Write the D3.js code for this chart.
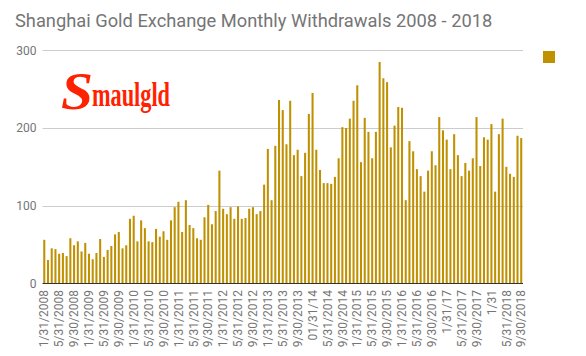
<!DOCTYPE html>
<html>
<head>
<meta charset="utf-8">
<script src="https://cdn.jsdelivr.net/npm/d3@7"></script>
<style>
  html, body { margin: 0; padding: 0; background: #fff; }
  svg { display: block; }
</style>
</head>
<body>
<svg id="chart" width="586" height="356"></svg>
<script>
// ---- data ----
const title = "Shanghai Gold Exchange Monthly Withdrawals 2008 - 2018";
const values = [
  56,30,45,44,38,39,35,58,49,54,
  41,52,38,31,39,57,34,43,48,63,
  66,45,49,83,87,54,81,71,54,53,
  70,60,67,56,81,98,105,66,107,75,
  71,58,56,85,101,76,93,145,96,89,
  98,83,99,83,84,96,98,89,93,127,
  173,107,177,236,223,179,235,165,172,138,
  168,218,245,172,146,129,129,128,137,161,
  201,200,212,235,255,156,213,195,161,195,
  285,264,259,175,203,227,226,107,183,170,
  147,138,118,145,170,152,214,197,185,147,
  192,165,138,155,145,161,214,151,188,185,
  205,118,192,212,150,141,137,190,187
];
const tickLabels = [
  "1/31/2008","5/31/2008","9/30/2008",
  "1/31/2009","5/31/2009","9/30/2009",
  "1/31/2010","5/31/2010","9/30/2010",
  "1/31/2011","5/31/2011","9/30/2011",
  "1/31/2012","5/31/2012","9/30/2012",
  "1/31/2013","5/31/2013","9/30/2013",
  "01/31/14","5/31/2014","9/30/2014",
  "1/31/2015","5/31/2015","9/30/2015",
  "1/31/2016","5/31/2016","9/30/2016",
  "1/31/17","5/31/2017","9/30/2017",
  "1/31","5/31/2018","9/30/2018"
];
const yTicks = [0, 100, 200, 300];
const tickEvery = 4;

// ---- layout ----
const svg = d3.select("#chart");
const plotLeft = 42.5, plotRight = 523, plotTop = 50.3, plotBottom = 283.3;
const barColor = "#bf9000";
const textColor = "#757575";

const idx = values.map((d, i) => i);
const x = d3.scaleBand().domain(idx).range([plotLeft, plotRight]).paddingInner(0.45).paddingOuter(0.2);
const y = d3.scaleLinear().domain([0, 300]).range([plotBottom, plotTop]);

// title
svg.append("text")
  .attr("x", 15).attr("y", 27)
  .attr("font-family", "Roboto, sans-serif")
  .attr("font-size", 18.3)
  .attr("fill", textColor)
  .text(title);

// gridlines
svg.append("g").selectAll("line")
  .data(yTicks.filter(d => d > 0))
  .join("line")
  .attr("x1", plotLeft).attr("x2", plotRight)
  .attr("y1", d => Math.round(y(d)) + 0.5).attr("y2", d => Math.round(y(d)) + 0.5)
  .attr("stroke", "#cccccc").attr("stroke-width", 1);

// y axis labels
const yAxis = d3.axisLeft(y).tickValues(yTicks).tickSize(0).tickPadding(6);
const yg = svg.append("g").attr("transform", `translate(${plotLeft},0)`).call(yAxis);
yg.select(".domain").remove();
yg.selectAll("text")
  .attr("font-family", "Roboto, sans-serif")
  .attr("font-size", 12)
  .attr("fill", textColor);

// logo
const logo = svg.append("g");
logo.append("text")
  .attr("x", 61).attr("y", 109)
  .attr("font-family", "'Liberation Serif', serif")
  .attr("font-weight", "bold")
  .attr("font-style", "italic")
  .attr("font-size", 52)
  .attr("fill", "#ff2200")
  .attr("textLength", 32).attr("lengthAdjust", "spacingAndGlyphs")
  .text("S");
logo.append("text")
  .attr("x", 92).attr("y", 106)
  .attr("font-family", "'Liberation Serif', serif")
  .attr("font-weight", "bold")
  .attr("font-size", 34)
  .attr("fill", "#ff2200")
  .attr("textLength", 78).attr("lengthAdjust", "spacingAndGlyphs")
  .text("maulgld");

// bars
svg.append("g").selectAll("rect")
  .data(values)
  .join("rect")
  .attr("x", (d, i) => x(i))
  .attr("width", x.bandwidth())
  .attr("y", d => y(d))
  .attr("height", d => y(0) - y(d))
  .attr("fill", barColor);

// baseline
svg.append("line")
  .attr("x1", plotLeft).attr("x2", plotRight)
  .attr("y1", Math.round(y(0)) + 0.5).attr("y2", Math.round(y(0)) + 0.5)
  .attr("stroke", "#333333").attr("stroke-width", 1);

// x axis labels
const xg = svg.append("g");
xg.selectAll("text")
  .data(tickLabels)
  .join("text")
  .attr("transform", (d, k) => `translate(${x(k * tickEvery) + x.bandwidth() / 2},290) rotate(-90)`)
  .attr("dy", "0.35em")
  .attr("text-anchor", "end")
  .attr("font-family", "Roboto, sans-serif")
  .attr("font-size", 12)
  .attr("fill", textColor)
  .text(d => d);

// legend
svg.append("rect")
  .attr("x", 543).attr("y", 51).attr("width", 12).attr("height", 12)
  .attr("fill", barColor);
</script>
</body>
</html>
